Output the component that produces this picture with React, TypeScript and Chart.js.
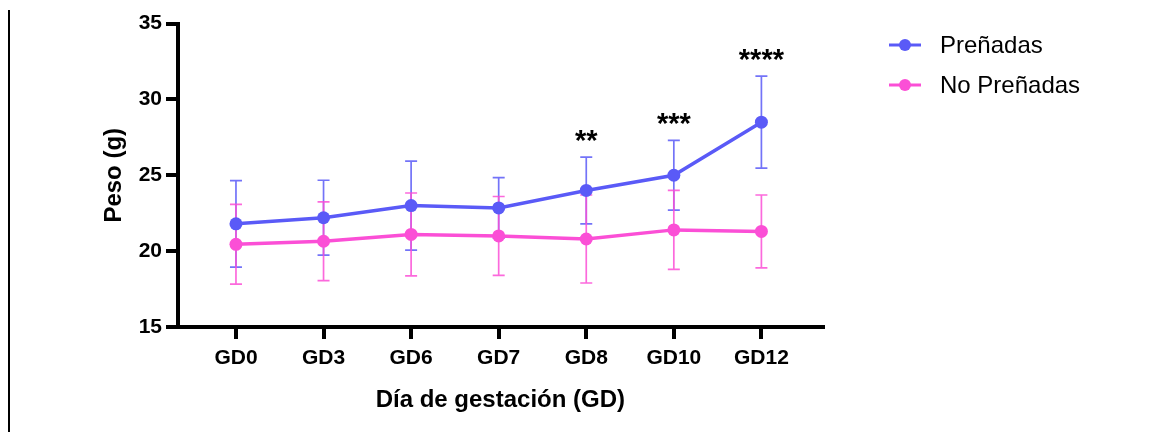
import React, { useEffect, useRef } from "react";
import { Chart, registerables } from "chart.js";

Chart.register(...registerables);

const categories = ["GD0", "GD3", "GD6", "GD7", "GD8", "GD10", "GD12"];
const prenadasMean = [21.8, 22.2, 23.0, 22.85, 24.0, 25.0, 28.5];
const prenadasSD = [2.85, 2.47, 2.93, 2.0, 2.2, 2.3, 3.03];
const noPrenadasMean = [20.45, 20.65, 21.1, 21.0, 20.8, 21.4, 21.3];
const noPrenadasSD = [2.63, 2.6, 2.73, 2.6, 2.9, 2.6, 2.4];
const significance = ["", "", "", "", "**", "***", "****"];
const yTicks = [15, 20, 25, 30, 35];

const BLUE = "#5a5af7";
const BLUE_ERR = "rgba(90,90,247,0.85)";
const PINK = "#fb4fd6";
const PINK_ERR = "rgba(251,79,214,0.85)";
const FONT = "'Liberation Sans', Arial, Helvetica, sans-serif";

const errorBarPlugin = {
  id: "errorBars",
  beforeDatasetsDraw(chart: any) {
    const ctx = chart.ctx;
    const xs = chart.scales.x;
    const ys = chart.scales.y;
    chart.data.datasets.forEach((ds: any) => {
      const sd: number[] = ds.sd;
      if (!sd) return;
      ctx.save();
      ctx.strokeStyle = ds.errColor;
      ctx.lineWidth = 1.7;
      ds.data.forEach((p: any, i: number) => {
        const x = xs.getPixelForValue(p.x);
        const yt = ys.getPixelForValue(p.y + sd[i]);
        const yb = ys.getPixelForValue(p.y - sd[i]);
        ctx.beginPath();
        ctx.moveTo(x, yt);
        ctx.lineTo(x, yb);
        ctx.moveTo(x - 6, yt);
        ctx.lineTo(x + 6, yt);
        ctx.moveTo(x - 6, yb);
        ctx.lineTo(x + 6, yb);
        ctx.stroke();
      });
      ctx.restore();
    });
  },
};

const starsPlugin = {
  id: "stars",
  afterDatasetsDraw(chart: any) {
    const ctx = chart.ctx;
    const xs = chart.scales.x;
    const ys = chart.scales.y;
    ctx.save();
    ctx.fillStyle = "#000";
    ctx.font = `bold 29px ${FONT}`;
    ctx.textAlign = "center";
    ctx.textBaseline = "alphabetic";
    significance.forEach((s, i) => {
      if (!s) return;
      const x = xs.getPixelForValue(i);
      const y = ys.getPixelForValue(prenadasMean[i] + prenadasSD[i]) - 7;
      ctx.fillText(s, x, y);
    });
    ctx.restore();
  },
};

const legendPlugin = {
  id: "customLegend",
  afterDraw(chart: any) {
    const ctx = chart.ctx;
    const items = chart.data.datasets;
    ctx.save();
    items.forEach((ds: any, i: number) => {
      const y = 45 + i * 40;
      ctx.strokeStyle = ds.borderColor;
      ctx.lineWidth = 3;
      ctx.beginPath();
      ctx.moveTo(889, y);
      ctx.lineTo(921, y);
      ctx.stroke();
      ctx.fillStyle = ds.borderColor;
      ctx.beginPath();
      ctx.arc(905, y, 6, 0, Math.PI * 2);
      ctx.fill();
      ctx.fillStyle = "#000";
      ctx.font = `24px ${FONT}`;
      ctx.textAlign = "left";
      ctx.textBaseline = "middle";
      ctx.fillText(ds.label, 940, y + 1);
    });
    ctx.restore();
  },
};

export default function App() {
  const ref = useRef<HTMLCanvasElement | null>(null);

  useEffect(() => {
    document.body.style.margin = "0";
    if (!ref.current) return;
    const chart = new Chart(ref.current, {
      type: "line",
      data: {
        datasets: [
          {
            label: "Preñadas",
            data: prenadasMean.map((v, i) => ({ x: i, y: v })),
            sd: prenadasSD,
            errColor: BLUE_ERR,
            borderColor: BLUE,
            backgroundColor: BLUE,
            borderWidth: 3.5,
            pointRadius: 6.5,
            pointBorderWidth: 0,
            pointBackgroundColor: BLUE,
            tension: 0,
          } as any,
          {
            label: "No Preñadas",
            data: noPrenadasMean.map((v, i) => ({ x: i, y: v })),
            sd: noPrenadasSD,
            errColor: PINK_ERR,
            borderColor: PINK,
            backgroundColor: PINK,
            borderWidth: 3.5,
            pointRadius: 6.5,
            pointBorderWidth: 0,
            pointBackgroundColor: PINK,
            tension: 0,
          } as any,
        ],
      },
      options: {
        animation: false,
        responsive: false,
        maintainAspectRatio: false,
        layout: { padding: { left: 99.6, right: 338.3, top: 23.5, bottom: 17.6 } },
        plugins: {
          legend: { display: false },
          tooltip: { enabled: false },
        },
        scales: {
          x: {
            type: "linear",
            min: -0.662,
            max: 6.7,
            afterFit: (s: any) => {
              s.height = 87.4;
            },
            afterBuildTicks: (s: any) => {
              s.ticks = categories.map((_, i) => ({ value: i }));
            },
            border: { display: true, color: "#000", width: 4 },
            grid: {
              drawOnChartArea: false,
              drawTicks: true,
              tickLength: 12,
              tickWidth: 4,
              tickColor: "#000",
              lineWidth: 4,
              color: "#000",
            },
            ticks: {
              color: "#000",
              padding: 7,
              font: { family: FONT, size: 21, weight: "bold" },
              callback: (v: any) => categories[Math.round(Number(v))] ?? "",
              maxRotation: 0,
              autoSkip: false,
            },
            title: {
              display: true,
              text: "Día de gestación (GD)",
              color: "#000",
              padding: { top: 0, bottom: 0 },
              font: { family: FONT, size: 24, weight: "bold" },
            },
          },
          y: {
            type: "linear",
            min: 15,
            max: 35,
            afterFit: (s: any) => {
              s.width = 78.4;
            },
            afterBuildTicks: (s: any) => {
              s.ticks = yTicks.map((v) => ({ value: v }));
            },
            border: { display: true, color: "#000", width: 4 },
            grid: {
              drawOnChartArea: false,
              drawTicks: true,
              tickLength: 12,
              tickWidth: 4,
              tickColor: "#000",
              lineWidth: 4,
              color: "#000",
            },
            ticks: {
              color: "#000",
              padding: 4,
              font: { family: FONT, size: 21, weight: "bold" },
            },
            title: {
              display: true,
              text: "Peso (g)",
              color: "#000",
              padding: { top: 0, bottom: 0 },
              font: { family: FONT, size: 24, weight: "bold" },
            },
          },
        },
      } as any,
      plugins: [errorBarPlugin, starsPlugin, legendPlugin],
    });
    return () => chart.destroy();
  }, []);

  return (
    <div style={{ position: "relative", width: 1161, height: 432, background: "#fff" }}>
      <div
        style={{
          position: "absolute",
          left: 8,
          top: 10,
          width: 2,
          height: 422,
          background: "#000",
        }}
      />
      <canvas ref={ref} width={1161} height={432} style={{ display: "block" }} />
    </div>
  );
}
